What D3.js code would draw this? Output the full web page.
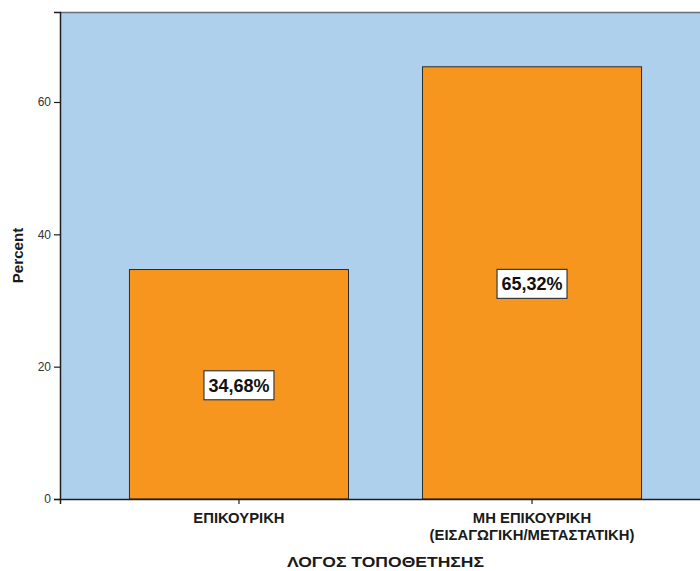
<!DOCTYPE html>
<html>
<head>
<meta charset="utf-8">
<script src="https://cdn.jsdelivr.net/npm/d3@7"></script>
<style>
  html, body { margin: 0; padding: 0; background: #ffffff; }
  svg { display: block; }
</style>
</head>
<body>
<svg id="chart" width="700" height="571"></svg>
<script>
// Categories (each may span several lines) and their percentages
const categories = ["ΕΠΙΚΟΥΡΙΚΗ", "ΜΗ ΕΠΙΚΟΥΡΙΚΗ (ΕΙΣΑΓΩΓΙΚΗ/ΜΕΤΑΣΤΑΤΙΚΗ)"];
const categoryLines = [["ΕΠΙΚΟΥΡΙΚΗ"], ["ΜΗ ΕΠΙΚΟΥΡΙΚΗ", "(ΕΙΣΑΓΩΓΙΚΗ/ΜΕΤΑΣΤΑΤΙΚΗ)"]];
const percents = [34.68, 65.32];
const yTicks = [0, 20, 40, 60];
const xTitle = "ΛΟΓΟΣ ΤΟΠΟΘΕΤΗΣΗΣ";
const yTitle = "Percent";

const FONT = "Liberation Sans, Arial, sans-serif";
const svg = d3.select("#chart");
const plotL = 60, plotT = 12, plotR = 711, plotB = 499;

// Widen a bold label slightly so it reads like the wide UI face
function widen(sel, k) {
  sel.each(function () {
    const len = this.getComputedTextLength();
    d3.select(this).attr("textLength", len * k).attr("lengthAdjust", "spacingAndGlyphs");
  });
}

const x = d3.scaleBand()
  .domain(categories)
  .range([plotL, plotR])
  .paddingInner(0.2526)
  .paddingOuter(0.237);

const y = d3.scaleLinear()
  .domain([0, 73.6])
  .range([plotB, plotT]);

// Plot background
svg.append("rect")
  .attr("x", plotL).attr("y", plotT)
  .attr("width", plotR - plotL).attr("height", plotB - plotT)
  .attr("fill", "#aed0ed");

// Top frame line
svg.append("line")
  .attr("x1", plotL).attr("x2", plotR)
  .attr("y1", plotT + 0.5).attr("y2", plotT + 0.5)
  .attr("stroke", "#6b6f75").attr("stroke-width", 1.5);

// Bars
const data = categories.map((c, i) => ({ c, v: percents[i], lines: categoryLines[i] }));
svg.selectAll("rect.bar")
  .data(data)
  .enter().append("rect")
  .attr("class", "bar")
  .attr("x", d => x(d.c))
  .attr("y", d => y(d.v))
  .attr("width", x.bandwidth())
  .attr("height", d => y(0) - y(d.v))
  .attr("fill", "#f7961e")
  .attr("stroke", "#2b2b2b")
  .attr("stroke-width", 1);

// Y axis
const yAxis = svg.append("g")
  .attr("transform", `translate(${plotL},0)`)
  .call(d3.axisLeft(y).tickValues(yTicks).tickSize(6).tickPadding(3).tickFormat(d3.format("d")));
yAxis.select(".domain").attr("stroke", "#1e1e1e").attr("stroke-width", 1.5);
yAxis.selectAll(".tick line").attr("stroke", "#1e1e1e").attr("stroke-width", 1.2);
yAxis.selectAll(".tick text")
  .attr("font-family", FONT)
  .attr("font-size", 12).attr("fill", "#333333");

// X axis
const xAxis = svg.append("g")
  .attr("transform", `translate(0,${plotB})`)
  .call(d3.axisBottom(x).tickSize(5).tickFormat(""));
xAxis.select(".domain").attr("stroke", "#1e1e1e").attr("stroke-width", 1.5);
xAxis.selectAll(".tick line").attr("stroke", "#1e1e1e").attr("stroke-width", 1.2);

// Category labels
const catLabels = svg.append("g");
data.forEach(d => {
  const cx = x(d.c) + x.bandwidth() / 2;
  d.lines.forEach((ln, i) => {
    catLabels.append("text")
      .attr("x", cx)
      .attr("y", 523 + i * 17)
      .attr("text-anchor", "middle")
      .attr("font-family", FONT)
      .attr("font-weight", "bold")
      .attr("font-size", 14)
      .attr("fill", "#1a1a1a")
      .text(ln);
  });
});
widen(catLabels.selectAll("text"), 1.06);

// Axis titles
const xt = svg.append("text")
  .attr("x", (plotL + plotR) / 2)
  .attr("y", 567)
  .attr("text-anchor", "middle")
  .attr("font-family", FONT)
  .attr("font-weight", "bold")
  .attr("font-size", 15.5)
  .attr("fill", "#1a1a1a")
  .text(xTitle);
widen(xt, 1.13);

const yt = svg.append("text")
  .attr("transform", `translate(23,${(plotT + plotB) / 2}) rotate(-90)`)
  .attr("text-anchor", "middle")
  .attr("font-family", FONT)
  .attr("font-weight", "bold")
  .attr("font-size", 14)
  .attr("fill", "#1a1a1a")
  .text(yTitle);
widen(yt, 1.08);

// Value labels in boxes, centred in each bar
const fmt = v => v.toFixed(2).replace(".", ",") + "%";
const labels = svg.selectAll("g.vlabel")
  .data(data)
  .enter().append("g")
  .attr("class", "vlabel")
  .attr("transform", d => `translate(${x(d.c) + x.bandwidth() / 2},${(y(d.v) + y(0)) / 2 + 1})`);
labels.append("rect")
  .attr("x", -35).attr("y", -14.5)
  .attr("width", 70).attr("height", 29)
  .attr("fill", "#ffffff")
  .attr("stroke", "#3a3a3a")
  .attr("stroke-width", 1.2);
labels.append("text")
  .attr("text-anchor", "middle")
  .attr("dy", "0.36em")
  .attr("font-family", FONT)
  .attr("font-weight", "bold")
  .attr("font-size", 18)
  .attr("fill", "#111111")
  .text(d => fmt(d.v));
</script>
</body>
</html>
